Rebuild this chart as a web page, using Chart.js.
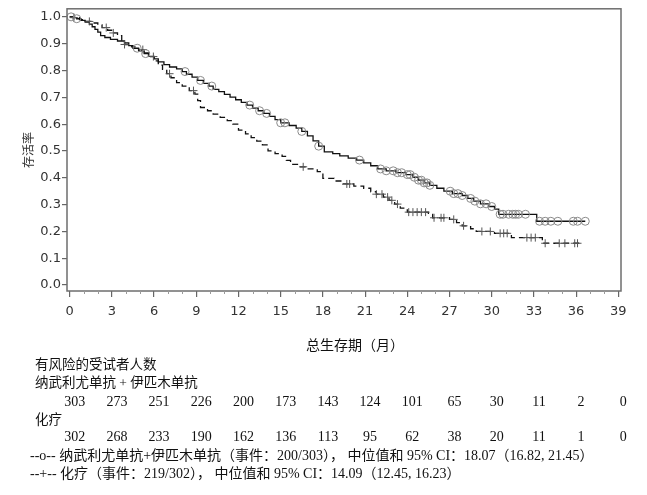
<!DOCTYPE html>
<html>
<head>
<meta charset="utf-8">
<title>总生存期</title>
<script src="https://cdn.jsdelivr.net/npm/chart.js"></script>
<style>
  body { margin: 0; background: #fff; }
</style>
</head>
<body>
<canvas id="km" width="647" height="495"></canvas>
<script>
// step curve, nivolumab + ipilimumab (months, survival after the event)
var nivoTime = [0, 0.2, 0.5, 0.8, 1.1, 1.4, 1.6, 1.8, 2.0, 2.2, 2.5, 2.9, 3.4, 3.9, 4.2, 4.5, 4.9, 5.3, 5.6, 6.0,
  6.3, 6.7, 7.1, 7.6, 8.0, 8.3, 8.7, 9.1, 9.5, 9.9, 10.2, 10.6, 11.0, 11.4, 11.8, 12.2, 12.6, 13.0, 13.4, 13.8,
  14.2, 14.6, 15.0, 15.6, 16.1, 16.5, 16.9, 17.3, 17.7, 18.1, 18.7, 19.2, 19.8, 20.4, 20.9, 21.4, 21.9, 22.5,
  23.2, 23.9, 24.4, 24.8, 25.2, 25.6, 26.1, 26.6, 27.2, 27.9, 28.3, 28.7, 29.2, 29.8, 30.2, 30.5, 33.2, 36.65];
var nivoSurv = [1.0, 0.997, 0.993, 0.987, 0.980, 0.973, 0.963, 0.953, 0.943, 0.930, 0.923, 0.916, 0.910, 0.903,
  0.893, 0.883, 0.873, 0.863, 0.853, 0.843, 0.832, 0.822, 0.813, 0.806, 0.796, 0.786, 0.775, 0.763, 0.752, 0.742,
  0.730, 0.721, 0.711, 0.701, 0.691, 0.681, 0.671, 0.660, 0.650, 0.640, 0.629, 0.617, 0.605, 0.595, 0.585, 0.573,
  0.556, 0.538, 0.518, 0.497, 0.490, 0.482, 0.473, 0.466, 0.456, 0.445, 0.433, 0.426, 0.419, 0.412, 0.402, 0.391,
  0.381, 0.372, 0.361, 0.350, 0.341, 0.334, 0.323, 0.313, 0.303, 0.293, 0.283, 0.264, 0.238, 0.238];
var nivoCensor = [0.1, 0.5, 4.8, 5.4, 8.2, 9.3, 10.1, 12.8, 13.5, 14.0, 15.0, 15.3, 16.5, 17.7, 20.6, 22.1, 22.5,
  23.0, 23.3, 23.6, 24.0, 24.2, 24.5, 24.8, 25.0, 25.2, 25.4, 25.6, 27.05, 27.3, 27.6, 27.9, 28.5, 28.8, 29.2,
  29.6, 30.0, 30.6, 30.8, 31.2, 31.5, 31.7, 31.9, 32.4, 33.4, 33.8, 34.2, 34.7, 35.8, 36.1, 36.65];

// step curve, chemotherapy
var chemoTime = [0, 0.3, 0.7, 1.1, 1.5, 2.0, 2.3, 2.7, 3.1, 3.4, 3.7, 3.9, 4.4, 4.9, 5.3, 5.7, 6.0, 6.3, 6.6, 6.9,
  7.2, 7.6, 8.0, 8.5, 8.9, 9.1, 9.3, 9.8, 10.2, 10.7, 11.2, 11.6, 12.0, 12.5, 12.9, 13.3, 13.7, 14.1, 14.6, 15.1,
  15.4, 15.7, 16.3, 16.9, 17.6, 18.0, 18.8, 19.4, 20.2, 20.9, 21.4, 21.8, 22.3, 22.7, 23.1, 23.5, 24.0, 25.5,
  25.8, 27.0, 27.5, 27.9, 28.5, 28.9, 30.2, 31.4, 33.6, 36.4];
var chemoSurv = [1.0, 0.997, 0.990, 0.983, 0.977, 0.970, 0.960, 0.950, 0.940, 0.930, 0.913, 0.897, 0.888, 0.878,
  0.866, 0.852, 0.836, 0.820, 0.804, 0.788, 0.773, 0.755, 0.742, 0.725, 0.712, 0.688, 0.662, 0.650, 0.637, 0.625,
  0.613, 0.600, 0.578, 0.564, 0.550, 0.537, 0.523, 0.500, 0.490, 0.480, 0.465, 0.450, 0.441, 0.433, 0.423, 0.398,
  0.388, 0.377, 0.369, 0.361, 0.348, 0.339, 0.328, 0.316, 0.302, 0.287, 0.272, 0.264, 0.251, 0.245, 0.233, 0.221,
  0.210, 0.200, 0.193, 0.177, 0.156, 0.156];
var chemoCensor = [0.3, 1.4, 2.6, 3.1, 3.9, 5.2, 5.95, 7.1, 8.8, 16.6, 19.7, 19.9, 21.8, 22.2, 22.6, 22.9, 23.3,
  24.1, 24.4, 24.7, 25.0, 25.3, 25.9, 26.4, 26.6, 27.3, 28.0, 29.3, 29.9, 30.6, 30.85, 31.1, 32.5, 32.8, 33.1,
  33.8, 34.8, 35.2, 35.9, 36.1];

var xTicks = [0, 3, 6, 9, 12, 15, 18, 21, 24, 27, 30, 33, 36, 39];
var yTicks = [0.0, 0.1, 0.2, 0.3, 0.4, 0.5, 0.6, 0.7, 0.8, 0.9, 1.0];
var riskNivo = [303, 273, 251, 226, 200, 173, 143, 124, 101, 65, 30, 11, 2, 0];
var riskChemo = [302, 268, 233, 190, 162, 136, 113, 95, 62, 38, 20, 11, 1, 0];

function toPoints(times, surv) {
    var pts = [];
    for (var i = 0; i < times.length; i++) pts.push({x: times[i], y: surv[i]});
    return pts;
}

// censor marks sit on the curve
function survAt(times, surv, t) {
    var s = 1;
    for (var i = 0; i < times.length; i++) {
        if (times[i] <= t) s = surv[i]; else break;
    }
    return s;
}
function censorPoints(cens, times, surv) {
    return cens.map(function (t) { return {x: t, y: survAt(times, surv, t)}; });
}

var textFont = '13.5px "Liberation Serif", "Noto Sans CJK SC"';
var bigFont = '14px "Liberation Serif", "Noto Sans CJK SC"';

var extras = {
    id: 'extras',
    afterDraw: function (chart) {
        var ctx = chart.ctx, a = chart.chartArea, x = chart.scales.x;
        ctx.save();
        ctx.strokeStyle = '#6e6e6e';
        ctx.lineWidth = 1.5;
        ctx.strokeRect(a.left, a.top, a.right - a.left, a.bottom - a.top);

        // minor ticks every month
        ctx.lineWidth = 1;
        ctx.strokeStyle = '#9a9a9a';
        for (var m = 1; m < 39; m++) {
            if (m % 3 === 0) continue;
            var px = Math.round(x.getPixelForValue(m)) + 0.5;
            ctx.beginPath();
            ctx.moveTo(px, a.bottom);
            ctx.lineTo(px, a.bottom + 3);
            ctx.stroke();
        }

        ctx.fillStyle = '#111';
        ctx.textBaseline = 'middle';
        ctx.font = bigFont;
        ctx.textAlign = 'center';
        ctx.fillText('总生存期（月）', 355, 346);

        ctx.font = textFont;
        ctx.textAlign = 'left';
        ctx.fillText('有风险的受试者人数', 35, 365);
        ctx.fillText('纳武利尤单抗 + 伊匹木单抗', 35, 383);
        ctx.fillText('化疗', 35, 420);
        ctx.font = bigFont;
        ctx.fillText('--o-- 纳武利尤单抗+伊匹木单抗（事件：200/303）， 中位值和 95% CI：18.07（16.82, 21.45）', 30, 456);
        ctx.fillText('--+-- 化疗（事件：219/302）， 中位值和 95% CI：14.09（12.45, 16.23）', 30, 474);

        ctx.textAlign = 'center';
        for (var i = 0; i < xTicks.length; i++) {
            var cx = x.getPixelForValue(xTicks[i]) + 5;
            ctx.fillText(String(riskNivo[i]), cx, 402);
            ctx.fillText(String(riskChemo[i]), cx, 437);
        }
        ctx.restore();
    }
};

var tickFont = {family: 'DejaVu Sans', size: 13};

new Chart(document.getElementById('km'), {
    type: 'line',
    data: {
        datasets: [
            {
                type: 'scatter',
                data: censorPoints(nivoCensor, nivoTime, nivoSurv),
                pointStyle: 'circle',
                pointRadius: 4,
                borderColor: '#8a8a8a',
                backgroundColor: 'rgba(0,0,0,0)',
                borderWidth: 1
            },
            {
                type: 'scatter',
                data: censorPoints(chemoCensor, chemoTime, chemoSurv),
                pointStyle: 'cross',
                pointRadius: 4,
                borderColor: '#555',
                borderWidth: 1
            },
            {
                data: toPoints(nivoTime, nivoSurv),
                stepped: true,
                borderColor: '#111',
                borderWidth: 1.3,
                pointRadius: 0,
                fill: false
            },
            {
                data: toPoints(chemoTime, chemoSurv),
                stepped: true,
                borderColor: '#111',
                borderWidth: 1.3,
                borderDash: [6, 4],
                pointRadius: 0,
                fill: false
            }
        ]
    },
    options: {
        responsive: false,
        animation: false,
        layout: {padding: {left: 0, top: 4, right: 26, bottom: 164}},
        plugins: {legend: {display: false}, tooltip: {enabled: false}},
        scales: {
            x: {
                type: 'linear',
                min: -0.19,
                max: 39.19,
                afterBuildTicks: function (s) { s.ticks = xTicks.map(function (v) { return {value: v}; }); },
                afterFit: function (s) { s.height = 40; },
                border: {display: false},
                grid: {drawOnChartArea: false, drawTicks: true, tickLength: 6, color: '#666', lineWidth: 1.2},
                ticks: {font: tickFont, color: '#333', padding: 7, maxRotation: 0, autoSkip: false}
            },
            y: {
                min: -0.022,
                max: 1.03,
                afterBuildTicks: function (s) { s.ticks = yTicks.map(function (v) { return {value: v}; }); },
                afterFit: function (s) { s.width = 67; },
                border: {display: false},
                grid: {drawOnChartArea: false, drawTicks: true, tickLength: 5, color: '#666', lineWidth: 1.2},
                ticks: {font: tickFont, color: '#333', padding: 1,
                    callback: function (v) { return v.toFixed(1); }},
                title: {display: true, text: '存活率', color: '#333',
                    font: {family: 'Noto Sans CJK SC', size: 12}, padding: {top: 21, bottom: 0}}
            }
        }
    },
    plugins: [extras]
});
</script>
</body>
</html>
